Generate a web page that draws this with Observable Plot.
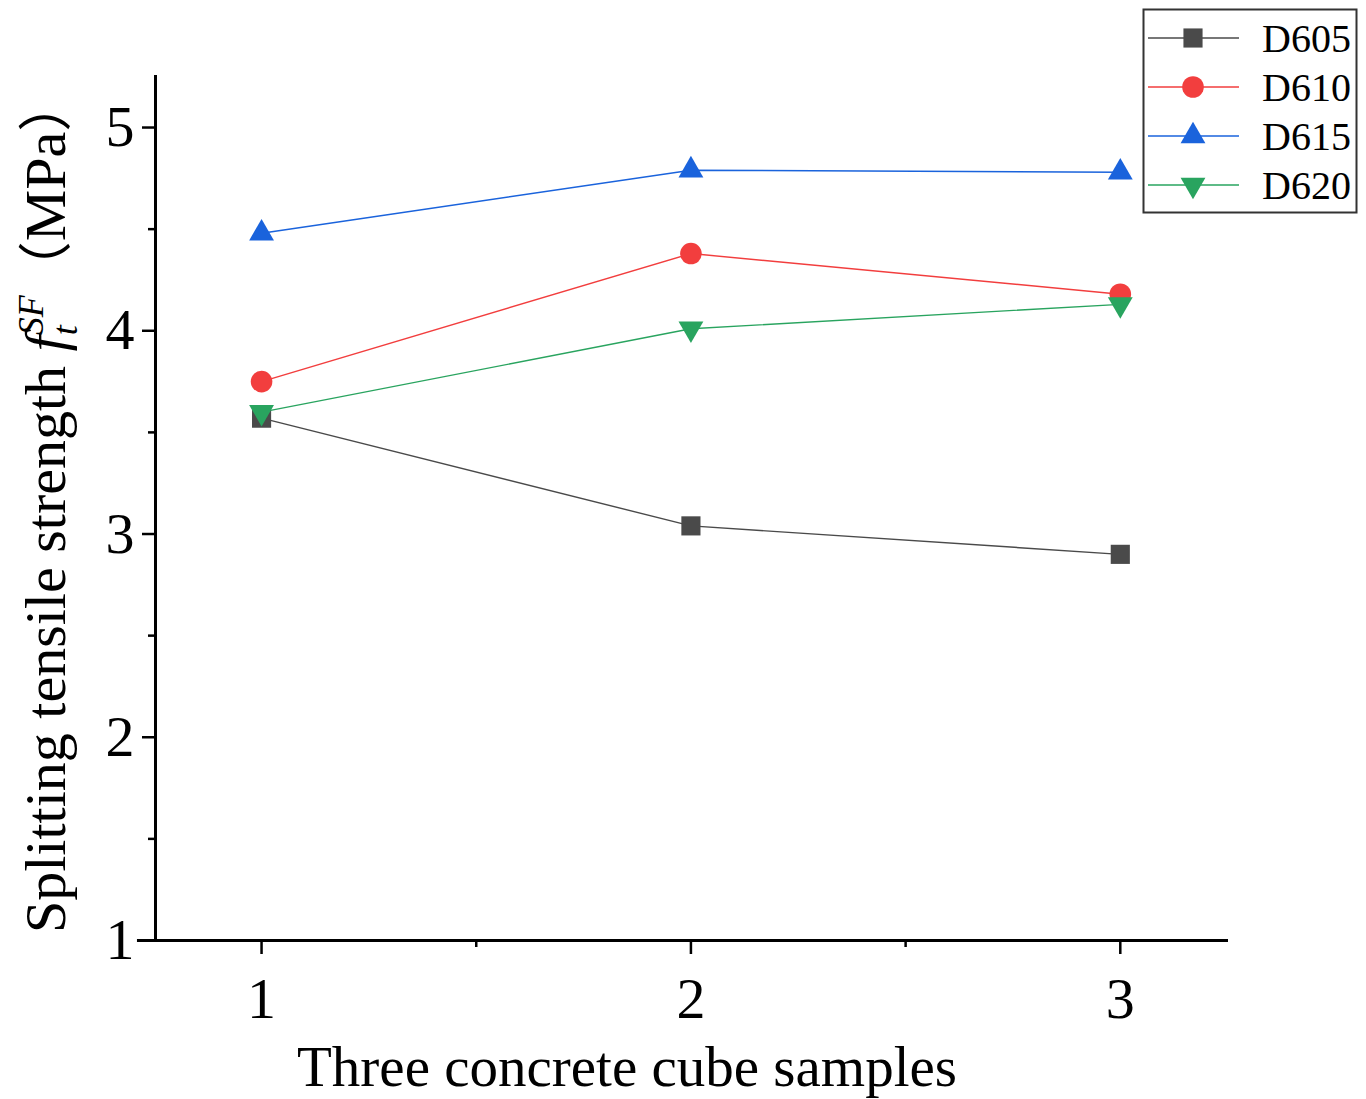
<!DOCTYPE html>
<html>
<head>
<meta charset="utf-8">
<script src="https://cdn.jsdelivr.net/npm/d3@7"></script>
<script src="https://cdn.jsdelivr.net/npm/@observablehq/plot@0.6"></script>
<style>
  body { margin: 0; background: #fff; }
  #chart { width: 1366px; height: 1099px; }
</style>
</head>
<body>
<div id="chart"></div>
<script>
// Splitting tensile strength of three cube samples per mix
const samples = [1, 2, 3];
const d605 = [3.57, 3.04, 2.90];
const d610 = [3.75, 4.38, 4.18];
const d615 = [4.48, 4.79, 4.78];
const d620 = [3.60, 4.01, 4.13];
const seriesNames = ["D605", "D610", "D615", "D620"];
const seriesValues = [d605, d610, d615, d620];
const seriesColors = ["#4a4a4a", "#f23e3e", "#1a63dc", "#29a45f"];
const yMajorTicks = [1, 2, 3, 4, 5];
const yMinorTicks = [1.5, 2.5, 3.5, 4.5];
const xMajorTicks = [1, 2, 3];
const xMinorTicks = [1.5, 2.5];
const xTitle = "Three concrete cube samples";

const rows = seriesNames.flatMap((name, i) =>
  samples.map((s, j) => ({series: name, sample: s, value: seriesValues[i][j]}))
);

// marker shapes (size = π r², as Plot passes it)
const sq = {draw(ctx, size) { const a = Math.sqrt(size) / 2; ctx.rect(-a, -a, 2 * a, 2 * a); }};
const triUp = {draw(ctx, size) {
  const r = Math.sqrt(size / Math.PI), s = 2.3 * r, h = s * Math.sqrt(3) / 2;
  ctx.moveTo(0, -2 * h / 3); ctx.lineTo(s / 2, h / 3); ctx.lineTo(-s / 2, h / 3); ctx.closePath();
}};
const triDown = {draw(ctx, size) {
  const r = Math.sqrt(size / Math.PI), s = 2.3 * r, h = s * Math.sqrt(3) / 2;
  ctx.moveTo(0, 2 * h / 3); ctx.lineTo(s / 2, -h / 3); ctx.lineTo(-s / 2, -h / 3); ctx.closePath();
}};
const seriesSymbols = [sq, "circle", triUp, triDown];
const markerR = 10.8;

const serif = "'Liberation Serif', 'Times New Roman', serif";
const cjk = "'Noto Sans CJK SC', sans-serif";
const xDomain = [0.753, 3.252];
const yDomain = [1, 5.256];

const plot = Plot.plot({
  width: 1366,
  height: 1099,
  marginLeft: 155,
  marginRight: 138,
  marginTop: 75,
  marginBottom: 159,
  style: {fontFamily: serif, background: "#fff", color: "#000", overflow: "visible"},
  x: {domain: xDomain},
  y: {domain: yDomain},
  color: {domain: seriesNames, range: seriesColors},
  marks: [
    Plot.axisY(yMajorTicks, {tickSize: 13, tickPadding: 8, strokeWidth: 2.5, fontSize: 58, label: null, tickFormat: d => d}),
    Plot.axisY(yMinorTicks, {tickSize: 7, strokeWidth: 2.5, label: null, tickFormat: () => ""}),
    Plot.axisX(xMajorTicks, {tickSize: 14, tickPadding: 22, strokeWidth: 2.5, fontSize: 58, label: null, tickFormat: d => d}),
    Plot.axisX(xMinorTicks, {tickSize: 7, strokeWidth: 2.5, label: null, tickFormat: () => ""}),
    Plot.ruleX([xDomain[0]], {stroke: "#000", strokeWidth: 3}),
    Plot.ruleY([yDomain[0]], {x1: 0.711, x2: xDomain[1], stroke: "#000", strokeWidth: 3}),
    Plot.line(rows, {x: "sample", y: "value", z: "series", stroke: "series", strokeWidth: 1.4}),
    ...seriesNames.map((name, i) =>
      Plot.dot(rows.filter(d => d.series === name), {
        x: "sample", y: "value", r: markerR, symbol: seriesSymbols[i], fill: seriesColors[i], stroke: "none"
      })
    )
  ]
});

document.getElementById("chart").appendChild(plot);
const svg = d3.select(plot);

// x-axis title
svg.append("text")
  .attr("x", 627).attr("y", 1086)
  .attr("text-anchor", "middle")
  .attr("font-family", serif).attr("font-size", 57).attr("fill", "#000")
  .text(xTitle);

// y-axis title with f_t^SF
const yt = svg.append("text")
  .attr("transform", "translate(65,933) rotate(-90)")
  .attr("text-anchor", "start")
  .attr("font-family", serif).attr("font-size", 58).attr("fill", "#000");
yt.append("tspan").text("Splitting tensile strength ");
yt.append("tspan").attr("font-style", "italic").text("f");
const sub = yt.append("tspan").attr("font-style", "italic").attr("font-size", 36).attr("dy", 12).text("t");
const subW = sub.node().getComputedTextLength();
yt.append("tspan").attr("font-style", "italic").attr("font-size", 36).attr("dx", -subW).attr("dy", -34).text("SF");
yt.append("tspan").attr("dy", 22).attr("font-family", cjk).attr("font-size", 54).text("（");
yt.append("tspan").text("MPa");
yt.append("tspan").attr("font-family", cjk).attr("font-size", 54).text("）");

// legend
const lg = svg.append("g").attr("text-anchor", "start");
lg.append("rect").attr("x", 1143.5).attr("y", 9.5).attr("width", 213).attr("height", 203)
  .attr("fill", "#fff").attr("stroke", "#333").attr("stroke-width", 2);
seriesNames.forEach((name, i) => {
  const cy = 38 + i * 49;
  lg.append("line").attr("x1", 1148).attr("x2", 1239).attr("y1", cy).attr("y2", cy)
    .attr("stroke", seriesColors[i]).attr("stroke-width", 1.4);
  const sym = typeof seriesSymbols[i] === "string" ? d3.symbolCircle : seriesSymbols[i];
  lg.append("path").attr("transform", `translate(1193,${cy})`)
    .attr("d", d3.symbol(sym, markerR * markerR * Math.PI)())
    .attr("fill", seriesColors[i]);
  lg.append("text").attr("x", 1262).attr("y", cy + 14)
    .attr("text-anchor", "start")
    .attr("font-family", serif).attr("font-size", 40).attr("fill", "#000")
    .text(name);
});
</script>
</body>
</html>
